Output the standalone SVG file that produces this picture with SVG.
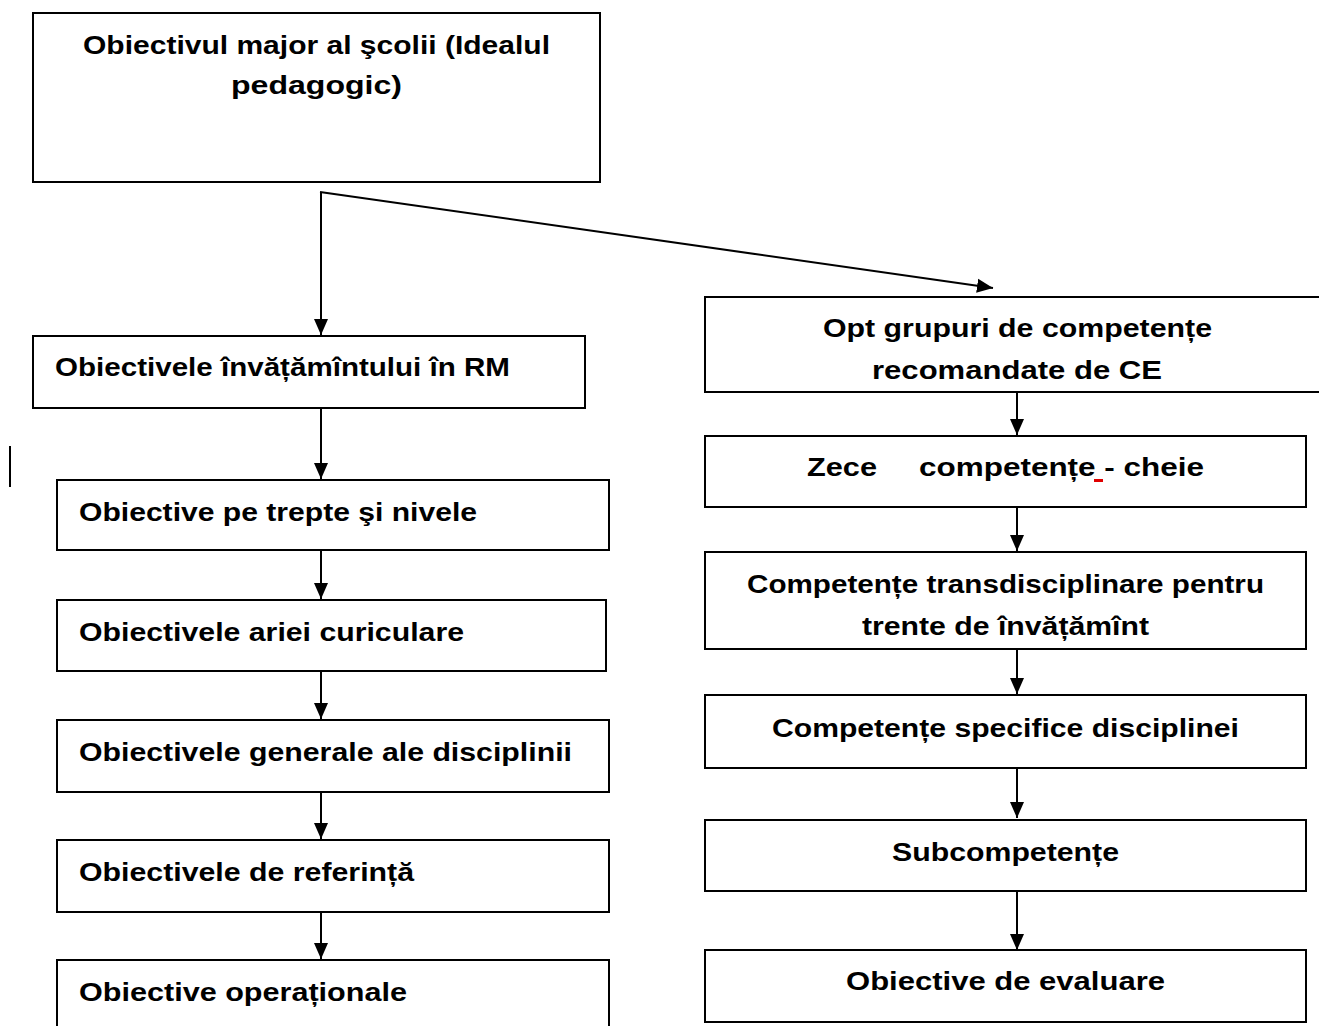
<svg xmlns="http://www.w3.org/2000/svg" width="1319" height="1026" viewBox="0 0 1319 1026">
<style>
.box{fill:#fff;stroke:#000;stroke-width:2}
.t{font-family:"Liberation Sans","DejaVu Sans",sans-serif;font-weight:bold;font-size:26px;fill:#000}
.c{text-anchor:middle}
.con{stroke:#000;stroke-width:2;fill:none}
</style>
<defs>
<marker id="arr" markerUnits="userSpaceOnUse" markerWidth="16" markerHeight="16" viewBox="0 0 16 16" refX="16" refY="8" orient="auto">
<path d="M0,1 L16,8 L0,15 Z" fill="#000"/>
</marker>
</defs>
<rect width="1319" height="1026" fill="#fff"/>
<g id="nodes-left">
<g id="n-ideal"><rect class="box" x="33" y="13" width="567" height="169"/>
<text class="t" x="83" y="54" textLength="467" lengthAdjust="spacingAndGlyphs">Obiectivul major al şcolii (Idealul</text>
<text class="t" x="231" y="94" textLength="171" lengthAdjust="spacingAndGlyphs">pedagogic)</text></g>
<g id="n-rm"><rect class="box" x="33" y="336" width="552" height="72"/>
<text class="t" x="55" y="376" textLength="455" lengthAdjust="spacingAndGlyphs">Obiectivele învățămîntului în RM</text></g>
<g id="n-trepte"><rect class="box" x="57" y="480" width="552" height="70"/>
<text class="t" x="79" y="521" textLength="398" lengthAdjust="spacingAndGlyphs">Obiective pe trepte şi nivele</text></g>
<g id="n-arie"><rect class="box" x="57" y="600" width="549" height="71"/>
<text class="t" x="79" y="641" textLength="385" lengthAdjust="spacingAndGlyphs">Obiectivele ariei curiculare</text></g>
<g id="n-generale"><rect class="box" x="57" y="720" width="552" height="72"/>
<text class="t" x="79" y="761" textLength="493" lengthAdjust="spacingAndGlyphs">Obiectivele generale ale disciplinii</text></g>
<g id="n-referinta"><rect class="box" x="57" y="840" width="552" height="72"/>
<text class="t" x="79" y="881" textLength="335" lengthAdjust="spacingAndGlyphs">Obiectivele de referință</text></g>
<g id="n-operationale"><path class="con" d="M57,1027 V960 H609 V1027"/>
<text class="t" x="79" y="1001" textLength="328" lengthAdjust="spacingAndGlyphs">Obiective operaționale</text></g>
</g>
<g id="nodes-right">
<g id="n-opt"><path class="con" d="M1320,297 H705 V392 H1320"/>
<text class="t" x="823" y="337" textLength="389" lengthAdjust="spacingAndGlyphs">Opt grupuri de competențe</text>
<text class="t" x="872" y="379" textLength="290" lengthAdjust="spacingAndGlyphs">recomandate de CE</text></g>
<g id="n-zece"><rect class="box" x="705" y="436" width="601" height="71"/>
<text class="t" x="807" y="476" textLength="70" lengthAdjust="spacingAndGlyphs">Zece</text>
<text class="t" x="919" y="476" textLength="285" lengthAdjust="spacingAndGlyphs">competențe - cheie</text>
<rect x="1094" y="479" width="9" height="3" fill="#e00000"/></g>
<g id="n-transd"><rect class="box" x="705" y="552" width="601" height="97"/>
<text class="t" x="747" y="593" textLength="517" lengthAdjust="spacingAndGlyphs">Competențe transdisciplinare pentru</text>
<text class="t" x="862" y="635" textLength="287" lengthAdjust="spacingAndGlyphs">trente de învățămînt</text></g>
<g id="n-specifice"><rect class="box" x="705" y="695" width="601" height="73"/>
<text class="t" x="772" y="737" textLength="467" lengthAdjust="spacingAndGlyphs">Competențe specifice disciplinei</text></g>
<g id="n-subcomp"><rect class="box" x="705" y="820" width="601" height="71"/>
<text class="t" x="892" y="861" textLength="227" lengthAdjust="spacingAndGlyphs">Subcompetențe</text></g>
<g id="n-evaluare"><rect class="box" x="705" y="950" width="601" height="72"/>
<text class="t" x="846" y="990" textLength="319" lengthAdjust="spacingAndGlyphs">Obiective de evaluare</text></g>
</g>
<g id="connectors">
<path class="con" d="M321,192 V335" marker-end="url(#arr)"/>
<path class="con" d="M320,192 L993,288" marker-end="url(#arr)"/>
<path class="con" d="M321,408 V479" marker-end="url(#arr)"/>
<path class="con" d="M321,550 V599" marker-end="url(#arr)"/>
<path class="con" d="M321,671 V719" marker-end="url(#arr)"/>
<path class="con" d="M321,792 V839" marker-end="url(#arr)"/>
<path class="con" d="M321,912 V959" marker-end="url(#arr)"/>
<path class="con" d="M1017,392 V435" marker-end="url(#arr)"/>
<path class="con" d="M1017,507 V551" marker-end="url(#arr)"/>
<path class="con" d="M1017,649 V694" marker-end="url(#arr)"/>
<path class="con" d="M1017,768 V818" marker-end="url(#arr)"/>
<path class="con" d="M1017,891 V950" marker-end="url(#arr)"/>
</g>
<line x1="10" y1="446" x2="10" y2="487" stroke="#000" stroke-width="2"/>
</svg>
